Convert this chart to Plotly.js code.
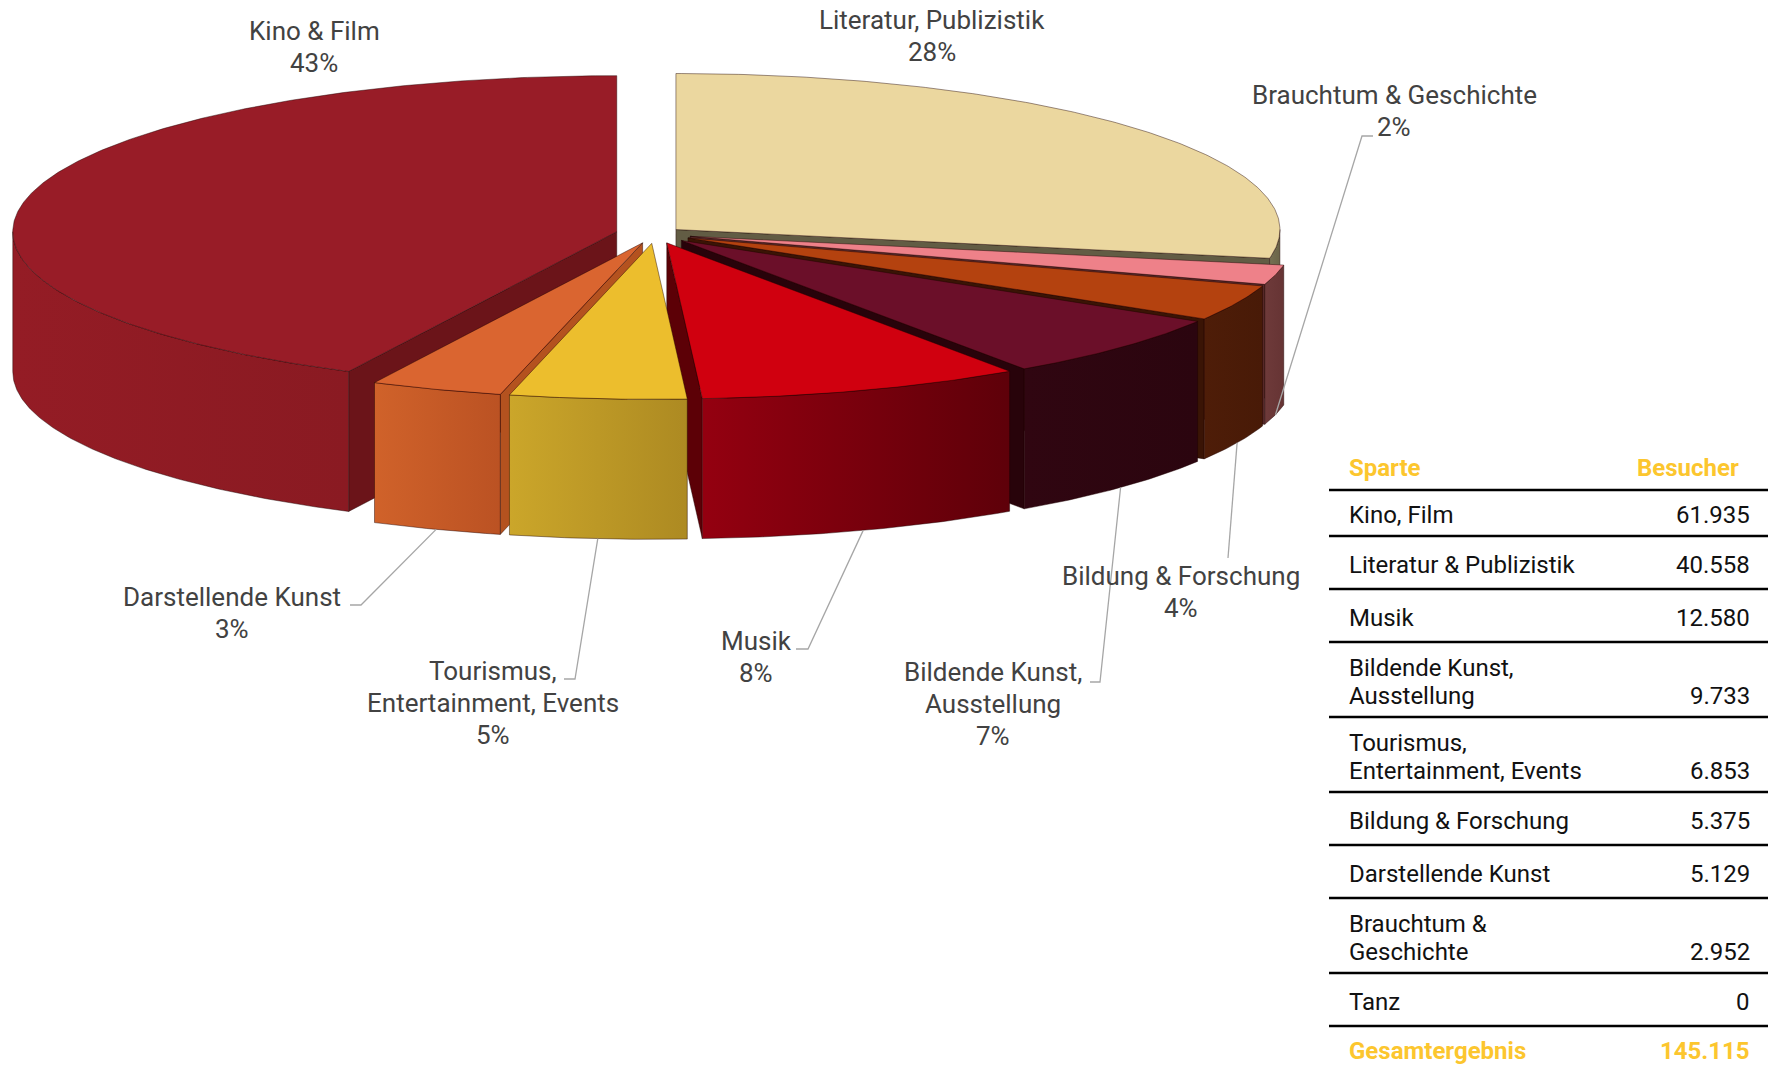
<!DOCTYPE html>
<html>
<head>
<meta charset="utf-8">
<script src="https://cdn.plot.ly/plotly-3.0.1.min.js"></script>
<style>html,body{margin:0;padding:0;background:#fff;}#chart{width:1777px;height:1070px;}</style>
</head>
<body>
<div id="chart"></div>
<script>
// ---------- DATA ----------
// pie slices, clockwise from 12 o'clock
const pieCategories = ['Literatur, Publizistik', 'Brauchtum & Geschichte', 'Bildung & Forschung',
  'Bildende Kunst, Ausstellung', 'Musik', 'Tourismus, Entertainment, Events', 'Darstellende Kunst', 'Kino & Film'];
const pieValues = [40558, 2952, 5375, 9733, 12580, 6853, 5129, 61935];
const pieLabelText = ['Literatur, Publizistik', 'Brauchtum & Geschichte', 'Bildung & Forschung',
  'Bildende Kunst,<br>Ausstellung', 'Musik', 'Tourismus,<br>Entertainment, Events', 'Darstellende Kunst', 'Kino & Film'];
const piePercentLabels = ['28%', '2%', '4%', '7%', '8%', '5%', '3%', '43%'];

// table
const tableHeader = ['Sparte', 'Besucher'];
const tableSparte = ['Kino, Film', 'Literatur & Publizistik', 'Musik', 'Bildende Kunst,<br>Ausstellung',
  'Tourismus,<br>Entertainment, Events', 'Bildung & Forschung', 'Darstellende Kunst', 'Brauchtum &<br>Geschichte', 'Tanz'];
const tableBesucher = [61935, 40558, 12580, 9733, 6853, 5375, 5129, 2952, 0];
const totalLabel = 'Gesamtergebnis';
const totalValue = 145115;

// ---------- STYLE ----------
const topColors   = ['#ebd79f', '#ee8189', '#b4420f', '#6b0f29', '#d0000f', '#ecbe2d', '#da6530', '#981c27'];
const wallColorsL = ['#767052', '#6e3a3a', '#4e1d08', '#300611', '#940010', '#cba62a', '#d0622a', '#941c25'];
const wallColorsR = ['#6a6448', '#663434', '#481a07', '#2b050f', '#5e0009', '#ad8a22', '#bb5223', '#8a1a22'];
const sideColors  = ['#625c44', '#5a2a2a', '#3a1405', '#28030a', '#5c0006', '#a08020', '#b4521f', '#6b1419'];
const explode     = [0.045, 0.06, 0.06, 0.06, 0.06, 0.06, 0.06, 0.065];
const CX = 655, CY = 234, RX = 604, RY = 156, DEPTH = 140;
const labelFont = {family: 'Roboto, sans-serif', size: 26, color: '#424242'};
const LABEL_LINE = 32;
// label block centres and leader elbows (layout)
const labelPos = [[932, 36], [1394, 111], [1181, 592], [993, 704], [756, 657], [493, 703], [232, 613], [314, 47]];
const leaderElbow = [null, [[1362, 136], [1373, 136]], [[1228, 558]], [[1100, 682], [1090, 682]],
  [[808, 649], [796, 649]], [[575, 679], [564, 679]], [[361, 605], [350, 605]], null];

function fmt(n) { return String(n).replace(/\B(?=(\d{3})+(?!\d))/g, '.'); }

// ---------- GEOMETRY ----------
const total = pieValues.reduce((a, b) => a + b, 0);
const slices = [];
let acc = 0;
pieValues.forEach((v, i) => {
  const a0 = acc / total * 360; acc += v; const a1 = acc / total * 360;
  const mid = (a0 + a1) / 2, m = mid * Math.PI / 180;
  const ox = explode[i] * RX * Math.sin(m), oy = -explode[i] * RY * Math.cos(m);
  slices.push({i, a0, a1, mid, ox, oy});
});
function P(s, deg, r, down) {
  const t = deg * Math.PI / 180;
  return [CX + s.ox + r * RX * Math.sin(t), CY + s.oy - r * RY * Math.cos(t) + (down ? DEPTH : 0)];
}
function arc(s, d0, d1, down) {
  const pts = []; const n = Math.max(2, Math.ceil(Math.abs(d1 - d0) / 0.5));
  for (let k = 0; k <= n; k++) pts.push(P(s, d0 + (d1 - d0) * k / n, 1, down));
  return pts;
}
const traces = [];
function poly(pts, color, color2, lineColor) {
  const tr = {type: 'scatter', mode: 'lines', x: pts.map(p => p[0]).concat([pts[0][0]]),
    y: pts.map(p => p[1]).concat([pts[0][1]]), fill: 'toself', fillcolor: color,
    line: {color: lineColor || 'rgba(30,0,0,0.55)', width: 0.8}, hoverinfo: 'skip', showlegend: false};
  if (color2) tr.fillgradient = {type: 'horizontal', colorscale: [[0, color], [1, color2]]};
  traces.push(tr);
}
const order = slices.slice().sort((a, b) => Math.cos(b.mid * Math.PI / 180) - Math.cos(a.mid * Math.PI / 180));
order.forEach(s => {
  const i = s.i;
  // radial walls facing viewer
  [[s.a0, s.a0 - 90], [s.a1, s.a1 + 90]].forEach(([a, nrm]) => {
    if (Math.cos(nrm * Math.PI / 180) < -0.01) {
      poly([P(s, a, 0, false), P(s, a, 1, false), P(s, a, 1, true), P(s, a, 0, true)], sideColors[i]);
    }
  });
  // outer curved wall (front half only)
  const st = Math.max(s.a0, 90), en = Math.min(s.a1, 270);
  if (st < en) {
    poly(arc(s, st, en, false).concat(arc(s, en, st, true)), wallColorsL[i], wallColorsR[i]);
  }
  // top face
  poly([P(s, s.a0, 0, false)].concat(arc(s, s.a0, s.a1, false)), topColors[i]);
});

// ---------- LEADERS ----------
slices.forEach(s => {
  const el = leaderElbow[s.i];
  if (!el) return;
  const anchor = P(s, s.mid, 1, true);
  const pts = [anchor].concat(el);
  traces.push({type: 'scatter', mode: 'lines', x: pts.map(p => p[0]), y: pts.map(p => p[1]),
    line: {color: '#a6a6a6', width: 1.3}, hoverinfo: 'skip', showlegend: false});
});

// ---------- ANNOTATIONS ----------
const annotations = [];
slices.forEach(s => {
  const lines = pieLabelText[s.i].split('<br>').concat([piePercentLabels[s.i]]);
  const n = lines.length;
  lines.forEach((ln, k) => {
    annotations.push({xref: 'x', yref: 'y', x: labelPos[s.i][0], y: labelPos[s.i][1] + (k - (n - 1) / 2) * LABEL_LINE,
      xanchor: 'center', yanchor: 'middle', text: ln, showarrow: false, font: labelFont});
  });
});

// table
const TL = 1329, TR = 1768, TXT = 1347, VAL = 1752;
const tFont = {family: 'Roboto, sans-serif', size: 24, color: '#111'};
const hFont = {family: 'Roboto, sans-serif', size: 24, color: '#fcc62e', weight: 'bold'};
const TLINE = 28;
const shapes = [];
let y = 490;
shapes.push({type: 'line', xref: 'x', yref: 'y', x0: TL, x1: TR, y0: y, y1: y, line: {color: '#000', width: 2.6}});
annotations.push({xref: 'x', yref: 'y', x: TXT, y: 468, xanchor: 'left', yanchor: 'middle', text: '<b>' + tableHeader[0] + '</b>', showarrow: false, font: hFont});
annotations.push({xref: 'x', yref: 'y', x: 1741, y: 468, xanchor: 'right', yanchor: 'middle', text: '<b>' + tableHeader[1] + '</b>', showarrow: false, font: hFont});
tableSparte.forEach((name, r) => {
  const lines = name.split('<br>');
  const two = lines.length > 1;
  const h = (two ? 75 : 53) - (r === 0 ? 7 : 0);
  const mid = y + h / 2 + 2;
  lines.forEach((ln, k) => {
    annotations.push({xref: 'x', yref: 'y', x: TXT, y: mid + (k - (lines.length - 1) / 2) * TLINE, xanchor: 'left', yanchor: 'middle',
      text: ln, showarrow: false, font: tFont});
  });
  annotations.push({xref: 'x', yref: 'y', x: VAL, y: two ? mid + TLINE / 2 : mid, xanchor: 'right', yanchor: 'middle',
    text: fmt(tableBesucher[r]), showarrow: false, font: tFont});
  y += h;
  shapes.push({type: 'line', xref: 'x', yref: 'y', x0: TL, x1: TR, y0: y, y1: y, line: {color: '#000', width: 2.6}});
});
annotations.push({xref: 'x', yref: 'y', x: TXT, y: y + 25, xanchor: 'left', yanchor: 'middle', text: '<b>' + totalLabel + '</b>', showarrow: false, font: hFont});
annotations.push({xref: 'x', yref: 'y', x: VAL, y: y + 25, xanchor: 'right', yanchor: 'middle', text: '<b>' + fmt(totalValue) + '</b>', showarrow: false, font: hFont});

const layout = {
  width: 1777, height: 1070, margin: {l: 0, r: 0, t: 0, b: 0},
  paper_bgcolor: '#fff', plot_bgcolor: '#fff', showlegend: false,
  xaxis: {range: [0, 1777], visible: false, fixedrange: true},
  yaxis: {range: [1070, 0], visible: false, fixedrange: true},
  annotations, shapes
};
Plotly.newPlot('chart', traces, layout, {staticPlot: true, displayModeBar: false});
</script>
</body>
</html>
